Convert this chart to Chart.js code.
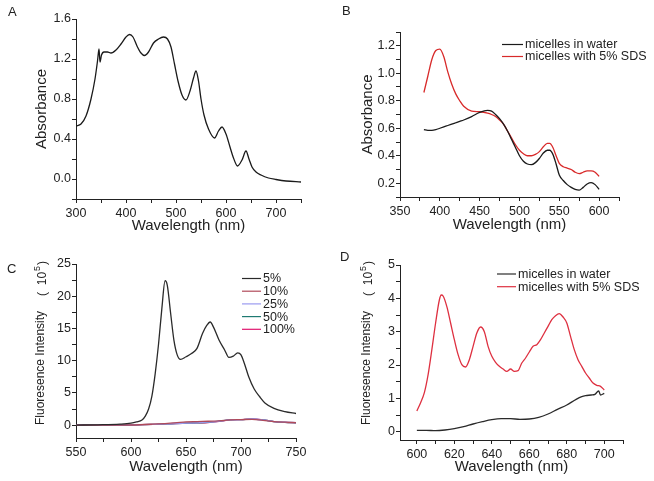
<!DOCTYPE html>
<html lang="en">
<head>
<meta charset="UTF-8">
<title>Absorbance and fluorescence spectra</title>
<style>
  body { margin: 0; background: #fff; }
  .panel { position: absolute; width: 327px; height: 240px; }
</style>
</head>
<body>
<div class="panel" style="left:0;top:0"><canvas id="chartA"></canvas></div>
<div class="panel" style="left:327px;top:0"><canvas id="chartB"></canvas></div>
<div class="panel" style="left:0;top:240px"><canvas id="chartC"></canvas></div>
<div class="panel" style="left:327px;top:240px"><canvas id="chartD"></canvas></div>
<script src="https://cdn.jsdelivr.net/npm/chart.js"></script>
<script>
// panel A: absorbance spectrum
const aWave = [300, 310, 320, 330, 338, 343, 346, 348, 351, 356, 363, 370, 380, 390, 400, 407, 414, 422, 430, 437, 445, 455, 465, 475, 483, 490, 497, 504, 512, 520, 528, 535, 540, 545, 550, 556, 565, 577, 585, 592, 600, 608, 615, 623, 632, 640, 646, 652, 660, 670, 685, 700, 720, 750];
const aAbs = [0.53, 0.55, 0.63, 0.80, 1.00, 1.18, 1.30, 1.17, 1.24, 1.27, 1.27, 1.26, 1.29, 1.35, 1.42, 1.445, 1.42, 1.33, 1.26, 1.235, 1.27, 1.36, 1.40, 1.42, 1.40, 1.32, 1.15, 0.98, 0.84, 0.79, 0.88, 1.01, 1.08, 0.98, 0.80, 0.64, 0.50, 0.41, 0.48, 0.52, 0.45, 0.32, 0.21, 0.13, 0.19, 0.28, 0.20, 0.12, 0.07, 0.04, 0.01, -0.005, -0.02, -0.03];
const aXTicks = [300, 350, 400, 450, 500, 550, 600, 650, 700, 750];
const aXLabels = [300, 400, 500, 600, 700];
const aYTicks = [-0.2, 0.0, 0.2, 0.4, 0.6, 0.8, 1.0, 1.2, 1.4, 1.6];
const aYLabels = [0.0, 0.4, 0.8, 1.2, 1.6];

// panel B: micelles absorbance
const bWave = [380, 385, 390, 395, 400, 405, 410, 415, 420, 425, 430, 440, 450, 460, 465, 470, 475, 480, 485, 490, 495, 500, 505, 510, 515, 520, 525, 530, 535, 538, 542, 546, 550, 555, 560, 565, 570, 575, 580, 585, 590, 595, 600];
const bWater = [0.59, 0.585, 0.585, 0.59, 0.60, 0.61, 0.62, 0.63, 0.64, 0.65, 0.66, 0.685, 0.715, 0.73, 0.725, 0.70, 0.67, 0.63, 0.58, 0.52, 0.46, 0.40, 0.36, 0.34, 0.335, 0.35, 0.38, 0.42, 0.44, 0.44, 0.41, 0.34, 0.26, 0.22, 0.19, 0.17, 0.155, 0.15, 0.17, 0.195, 0.205, 0.19, 0.155];
const bSds = [0.86, 0.98, 1.10, 1.165, 1.175, 1.12, 1.01, 0.92, 0.85, 0.80, 0.76, 0.725, 0.72, 0.71, 0.70, 0.685, 0.66, 0.63, 0.58, 0.53, 0.48, 0.44, 0.415, 0.40, 0.40, 0.41, 0.43, 0.465, 0.49, 0.49, 0.46, 0.40, 0.345, 0.32, 0.31, 0.30, 0.28, 0.27, 0.28, 0.29, 0.29, 0.28, 0.25];
const bXTicks = [350, 375, 400, 425, 450, 475, 500, 525, 550, 575, 600, 625];
const bXLabels = [350, 400, 450, 500, 550, 600];
const bYTicks = [0.1, 0.2, 0.3, 0.4, 0.5, 0.6, 0.7, 0.8, 0.9, 1.0, 1.1, 1.2, 1.3];
const bYLabels = [0.2, 0.4, 0.6, 0.8, 1.0, 1.2];

// panel C: fluorescence vs SDS content
const cWave = [550, 570, 590, 600, 605, 610, 613, 616, 619, 622, 625, 628, 631, 633, 636, 639, 642, 645, 650, 655, 660, 665, 669, 672, 675, 680, 685, 689, 693, 697, 700, 703, 707, 712, 717, 722, 730, 740, 750];
const c5 = [0, 0.05, 0.15, 0.3, 0.5, 0.8, 1.4, 2.5, 4.5, 8, 12.5, 18, 22.4, 21.7, 17.4, 13.2, 10.9, 10.2, 10.6, 11.1, 11.9, 14.2, 15.5, 16.0, 15.2, 13.2, 11.7, 10.5, 10.7, 11.2, 10.9, 9.6, 7.5, 5.6, 4.4, 3.4, 2.6, 2.1, 1.8];
const cLowWave = [550, 575, 600, 620, 640, 650, 660, 670, 680, 690, 700, 710, 720, 730, 740, 750];
const c10 = [0, 0, 0.02, 0.15, 0.35, 0.5, 0.55, 0.6, 0.65, 0.8, 0.85, 0.9, 0.75, 0.55, 0.45, 0.38];
const c25 = [0, 0, 0.02, 0.1, 0.25, 0.3, 0.35, 0.45, 0.6, 0.8, 0.85, 0.95, 0.8, 0.55, 0.45, 0.38];
const c50 = [0, 0, 0.02, 0.1, 0.25, 0.3, 0.35, 0.42, 0.6, 0.82, 0.85, 0.93, 0.8, 0.55, 0.42, 0.36];
const c100 = [0, 0, 0.02, 0.1, 0.25, 0.3, 0.35, 0.4, 0.58, 0.8, 0.86, 0.95, 0.82, 0.55, 0.42, 0.36];
const cXTicks = [550, 575, 600, 625, 650, 675, 700, 725, 750];
const cXLabels = [550, 600, 650, 700, 750];
const cYTicks = [0, 2.5, 5, 7.5, 10, 12.5, 15, 17.5, 20, 22.5, 25];
const cYLabels = [0, 5, 10, 15, 20, 25];

// panel D: micelles fluorescence
const dWave = [600, 602, 604, 606, 608, 610, 612, 613, 614, 616, 618, 620, 622, 624, 626, 628, 630, 632, 634, 636, 638, 640, 642, 644, 646, 648, 650, 652, 654, 656, 658, 660, 662, 664, 666, 668, 670, 672, 674, 676, 678, 680, 682, 684, 686, 688, 690, 692, 694, 696, 698, 700];
const dSds = [0.62, 0.87, 1.17, 1.71, 2.46, 3.26, 3.95, 4.10, 4.07, 3.75, 3.26, 2.76, 2.31, 2.01, 1.94, 2.16, 2.56, 2.96, 3.14, 3.0, 2.56, 2.26, 2.08, 1.96, 1.88, 1.81, 1.88, 1.81, 1.83, 2.06, 2.21, 2.39, 2.56, 2.61, 2.76, 2.96, 3.16, 3.36, 3.48, 3.54, 3.44, 3.26, 2.86, 2.46, 2.16, 1.96, 1.76, 1.61, 1.46, 1.39, 1.36, 1.25];
const dWaterWave = [600, 605, 610, 615, 620, 625, 630, 635, 640, 645, 650, 655, 660, 665, 670, 675, 680, 685, 688, 690, 693, 695, 697, 698, 700];
const dWater = [0.04, 0.04, 0.03, 0.05, 0.09, 0.15, 0.23, 0.30, 0.36, 0.39, 0.39, 0.37, 0.38, 0.43, 0.53, 0.67, 0.80, 0.97, 1.05, 1.08, 1.10, 1.12, 1.22, 1.10, 1.15];
const dXTicks = [600, 610, 620, 630, 640, 650, 660, 670, 680, 690, 700, 710];
const dXLabels = [600, 620, 640, 660, 680, 700];
const dYTicks = [0, 0.5, 1, 1.5, 2, 2.5, 3, 3.5, 4, 4.5, 5];
const dYLabels = [0, 1, 2, 3, 4, 5];

const FONT = '"Liberation Sans", Arial, sans-serif';
const INK = '#222';

function pts(xs, ys) {
    return xs.map((x, i) => ({ x: x, y: ys[i] }));
}

function series(label, xs, ys, color) {
    return {
        label: label,
        data: pts(xs, ys),
        borderColor: color,
        backgroundColor: color,
        borderWidth: 1.3,
        pointRadius: 0,
        cubicInterpolationMode: 'monotone',
        fill: false
    };
}

// one axis with Origin-like outward ticks, labels only on the major ones
function axis(o) {
    return {
        type: 'linear',
        min: o.min,
        max: o.max,
        afterBuildTicks: s => { s.ticks = o.ticks.map(v => ({ value: v })); },
        afterFit: s => {
            if (s.isHorizontal()) s.height = o.size; else s.width = o.size;
        },
        ticks: {
            autoSkip: false,
            maxRotation: 0,
            padding: o.pad,
            color: INK,
            font: { family: FONT, size: 12.5 },
            callback: v => o.labels.includes(v) ? o.fmt(v) : ''
        },
        grid: { drawOnChartArea: false, drawTicks: true, tickLength: 4, tickColor: INK },
        border: { display: true, color: INK, width: 1 },
        title: o.title ? {
            display: true,
            text: o.title,
            color: INK,
            font: { family: FONT, size: 15 },
            padding: o.titlePad
        } : { display: false }
    };
}

// panel letter, in-plot legend, and the y title with a superscript
function decor(cfg) {
    return {
        id: 'decor',
        afterDraw(chart) {
            const ctx = chart.ctx;
            ctx.save();
            ctx.fillStyle = INK;
            ctx.font = '13px ' + FONT;
            ctx.textBaseline = 'alphabetic';
            ctx.textAlign = 'left';
            ctx.fillText(cfg.letter, cfg.lx, cfg.ly);

            if (cfg.legend) {
                const L = cfg.legend;
                ctx.font = L.size + 'px ' + FONT;
                ctx.textBaseline = 'middle';
                chart.data.datasets.forEach((ds, i) => {
                    const y = L.y + i * L.step;
                    ctx.strokeStyle = ds.borderColor;
                    ctx.lineWidth = 1.2;
                    ctx.beginPath();
                    ctx.moveTo(L.x, y);
                    ctx.lineTo(L.x + L.len, y);
                    ctx.stroke();
                    ctx.fillStyle = INK;
                    ctx.fillText(ds.label, L.x + L.len + 2, y + 0.5);
                });
            }

            if (cfg.yTitle) {
                const T = cfg.yTitle;
                ctx.translate(T.x, T.y);
                ctx.rotate(-Math.PI / 2);
                ctx.fillStyle = INK;
                ctx.textBaseline = 'middle';
                ctx.font = '12px ' + FONT;
                ctx.fillText('Fluoresence Intensity', 0, 0);
                let pos = ctx.measureText('Fluoresence Intensity').width + 15;
                ctx.fillText('(  10', pos, 2);
                pos += ctx.measureText('(  10').width + 1;
                ctx.font = '9px ' + FONT;
                ctx.fillText('5', pos, -3);
                pos += ctx.measureText('5').width + 1;
                ctx.font = '12px ' + FONT;
                ctx.fillText(')', pos, 2);
            }
            ctx.restore();
        }
    };
}

function makeChart(id, datasets, padding, xAxis, yAxis, deco) {
    return new Chart(document.getElementById(id), {
        type: 'line',
        data: { datasets: datasets },
        options: {
            responsive: true,
            maintainAspectRatio: false,
            animation: false,
            layout: { padding: padding },
            plugins: { legend: { display: false }, tooltip: { enabled: false } },
            scales: { x: xAxis, y: yAxis }
        },
        plugins: [deco]
    });
}

const one = v => v.toFixed(1);
const int = v => String(v);

makeChart('chartA',
    [series('A', aWave, aAbs, '#1a1a1a')],
    { left: 0, top: 19, right: 26, bottom: 0 },
    axis({ min: 300, max: 750, ticks: aXTicks, labels: aXLabels, fmt: int, size: 41, pad: 3,
           title: 'Wavelength (nm)', titlePad: { top: 0, bottom: 5 } }),
    axis({ min: -0.2, max: 1.6, ticks: aYTicks, labels: aYLabels, fmt: one, size: 76, pad: 1,
           title: 'Absorbance', titlePad: { top: 33, bottom: 0 } }),
    decor({ letter: 'A', lx: 8, ly: 15.5 })
);

makeChart('chartB',
    [series('micelles in water', bWave, bWater, '#1a1a1a'),
     series('micelles with 5% SDS', bWave, bSds, '#d82a2a')],
    { left: 0, top: 32, right: 35, bottom: 0 },
    axis({ min: 350, max: 625, ticks: bXTicks, labels: bXLabels, fmt: int, size: 43, pad: 3,
           title: 'Wavelength (nm)', titlePad: { top: 0, bottom: 6 } }),
    axis({ min: 0.1, max: 1.3, ticks: bYTicks, labels: bYLabels, fmt: one, size: 73, pad: 1,
           title: 'Absorbance', titlePad: { top: 32, bottom: 0 } }),
    decor({ letter: 'B', lx: 15, ly: 14.5,
            legend: { x: 175, y: 44.5, step: 12, len: 21, size: 12.5 } })
);

makeChart('chartC',
    [series('5%', cWave, c5, '#2a2a2a'),
     series('10%', cLowWave, c10, '#b04a5a'),
     series('25%', cLowWave, c25, '#9a9af0'),
     series('50%', cLowWave, c50, '#1f7a72'),
     series('100%', cLowWave, c100, '#e0156e')],
    { left: 0, top: 24, right: 31, bottom: 0 },
    axis({ min: 550, max: 750, ticks: cXTicks, labels: cXLabels, fmt: int, size: 42, pad: 3,
           title: 'Wavelength (nm)', titlePad: { top: 0, bottom: 4 } }),
    axis({ min: -2, max: 25, ticks: cYTicks, labels: cYLabels, fmt: int, size: 76, pad: 1,
           title: null }),
    decor({ letter: 'C', lx: 7, ly: 32.5,
            legend: { x: 242, y: 38.5, step: 12.7, len: 19, size: 12.5 },
            yTitle: { x: 41, y: 185 } })
);

makeChart('chartD',
    [series('micelles in water', dWaterWave, dWater, '#2a2a2a'),
     series('micelles with 5% SDS', dWave, dSds, '#de3040')],
    { left: 0, top: 25, right: 31, bottom: 0 },
    axis({ min: 591, max: 710, ticks: dXTicks, labels: dXLabels, fmt: int, size: 40, pad: 3,
           title: 'Wavelength (nm)', titlePad: { top: 0, bottom: 4 } }),
    axis({ min: -0.25, max: 5, ticks: dYTicks, labels: dYLabels, fmt: int, size: 73, pad: 1,
           title: null }),
    decor({ letter: 'D', lx: 13, ly: 20.5,
            legend: { x: 170, y: 34, step: 12.7, len: 19, size: 12.5 },
            yTitle: { x: 40, y: 185 } })
);
</script>
</body>
</html>
